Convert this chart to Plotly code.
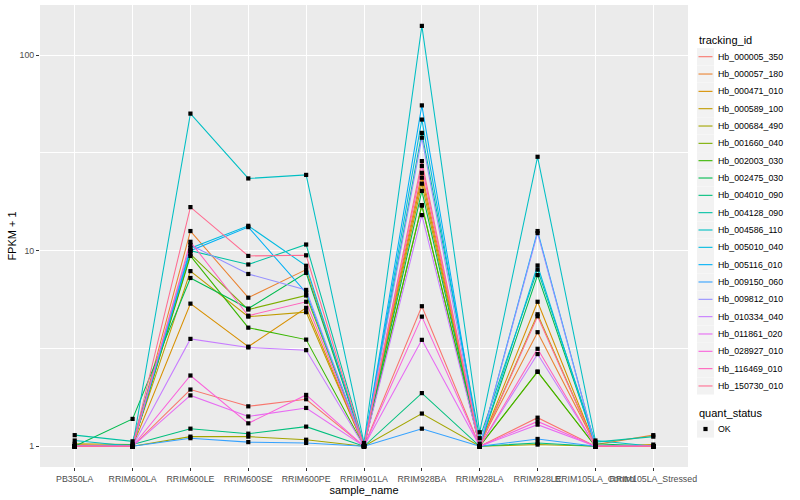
import plotly.graph_objects as go

categories = ["PB350LA", "RRIM600LA", "RRIM600LE", "RRIM600SE", "RRIM600PE", "RRIM901LA",
              "RRIM928BA", "RRIM928LA", "RRIM928LE", "RRIM105LA_Control", "RRIM105LA_Stressed"]

tracking_ids = ["Hb_000005_350", "Hb_000057_180", "Hb_000471_010", "Hb_000589_100", "Hb_000684_490",
                "Hb_001660_040", "Hb_002003_030", "Hb_002475_030", "Hb_004010_090", "Hb_004128_090",
                "Hb_004586_110", "Hb_005010_040", "Hb_005116_010", "Hb_009150_060", "Hb_009812_010",
                "Hb_010334_040", "Hb_011861_020", "Hb_028927_010", "Hb_116469_010", "Hb_150730_010"]

colors = ["#F8766D", "#EA8331", "#D89000", "#C09B00", "#A3A500", "#7CAE00", "#39B600", "#00BB4E",
          "#00BF7D", "#00C1A3", "#00BFC4", "#00BAE0", "#00B0F6", "#35A2FF", "#9590FF", "#C77CFF",
          "#E76BF3", "#FA62DB", "#FF62BC", "#FF6C91"]

Hb_000005_350 = [1.0, 1.0, 1.95, 1.6, 1.74, 1.0, 5.2, 1.0, 1.4, 1.0, 1.0]
Hb_000057_180 = [1.02, 1.0, 12.6, 5.75, 8.0, 1.02, 25.0, 1.03, 3.83, 1.02, 1.14]
Hb_000471_010 = [1.0, 1.0, 5.36, 3.23, 5.1, 1.0, 23.6, 1.0, 5.48, 1.0, 1.0]
Hb_000589_100 = [1.03, 1.02, 7.86, 4.6, 4.85, 1.0, 22.0, 1.0, 4.73, 1.0, 1.02]
Hb_000684_490 = [1.0, 1.0, 1.12, 1.12, 1.08, 1.0, 1.47, 1.0, 1.02, 1.0, 1.0]
Hb_001660_040 = [1.0, 1.0, 9.6, 5.0, 5.9, 1.0, 17.0, 1.0, 2.40, 1.0, 1.0]
Hb_002003_030 = [1.0, 1.0, 9.4, 4.04, 3.51, 1.0, 17.1, 1.0, 2.41, 1.0, 1.0]
Hb_002475_030 = [1.0, 1.38, 7.25, 5.06, 7.7, 1.0, 20.2, 1.0, 7.5, 1.03, 1.0]
Hb_004010_090 = [1.0, 1.02, 1.23, 1.16, 1.26, 1.0, 1.87, 1.0, 1.04, 1.0, 1.0]
Hb_004128_090 = [1.14, 1.06, 10.0, 8.5, 10.75, 1.02, 40.0, 1.1, 8.0, 1.05, 1.12]
Hb_004586_110 = [1.07, 1.0, 50.2, 23.4, 24.4, 1.04, 141.0, 1.18, 30.2, 1.07, 1.0]
Hb_005010_040 = [1.0, 1.0, 10.3, 13.4, 8.37, 1.0, 46.8, 1.0, 8.4, 1.0, 1.0]
Hb_005116_010 = [1.0, 1.0, 10.0, 13.2, 6.1, 1.0, 55.3, 1.0, 12.6, 1.0, 1.0]
Hb_009150_060 = [1.0, 1.0, 1.1, 1.05, 1.04, 1.0, 1.23, 1.0, 1.09, 1.0, 1.0]
Hb_009812_010 = [1.0, 1.0, 10.7, 7.6, 6.3, 1.0, 37.8, 1.0, 12.3, 1.0, 1.0]
Hb_010334_040 = [1.0, 1.0, 3.54, 3.2, 3.1, 1.0, 15.2, 1.0, 2.96, 1.0, 1.0]
Hb_011861_020 = [1.0, 1.0, 1.82, 1.42, 1.57, 1.0, 3.5, 1.0, 1.29, 1.0, 1.0]
Hb_028927_010 = [1.0, 1.0, 2.3, 1.31, 1.83, 1.0, 4.6, 1.0, 1.34, 1.0, 1.0]
Hb_116469_010 = [1.0, 1.0, 11.1, 4.65, 5.48, 1.0, 27.1, 1.0, 3.15, 1.0, 1.0]
Hb_150730_010 = [1.0, 1.0, 16.7, 9.4, 9.47, 1.0, 28.7, 1.0, 4.62, 1.0, 1.0]

series_values = [Hb_000005_350, Hb_000057_180, Hb_000471_010, Hb_000589_100, Hb_000684_490,
                 Hb_001660_040, Hb_002003_030, Hb_002475_030, Hb_004010_090, Hb_004128_090,
                 Hb_004586_110, Hb_005010_040, Hb_005116_010, Hb_009150_060, Hb_009812_010,
                 Hb_010334_040, Hb_011861_020, Hb_028927_010, Hb_116469_010, Hb_150730_010]

quant_status = "OK"

y_ticks = [1, 10, 100]
y_tick_labels = ["1", "10", "100"]

W, H = 800, 500
ML, MR, MT, MB = 40, 112, 5, 33
PW, PH = W - ML - MR, H - MT - MB


def px(x):
    return (x - ML) / PW


def py(y):
    return (H - MB - y) / PH


FONT = "Liberation Sans, Arial, sans-serif"

fig = go.Figure()
xs = list(range(len(categories)))
for name, vals, col in zip(tracking_ids, series_values, colors):
    fig.add_trace(go.Scatter(x=xs, y=vals, mode="lines", name=name,
                             line=dict(color=col, width=1.05), showlegend=False))

all_x, all_y = [], []
for vals in series_values:
    all_x += xs
    all_y += vals
fig.add_trace(go.Scatter(x=all_x, y=all_y, mode="markers", name=quant_status,
                         marker=dict(symbol="square", size=4.2, color="black", line=dict(width=0)),
                         showlegend=False))

shapes = []
annotations = []

# legend: tracking_id
annotations.append(dict(x=px(696.5), y=py(40), xref="paper", yref="paper", text="tracking_id",
                        showarrow=False, xanchor="left", yanchor="middle",
                        font=dict(family=FONT, size=11, color="black")))
step = 17.33
for i, (name, col) in enumerate(zip(tracking_ids, colors)):
    c = 56.7 + i * step
    shapes.append(dict(type="rect", xref="paper", yref="paper", x0=px(697), x1=px(714),
                       y0=py(c - 8.6), y1=py(c + 8.6), fillcolor="#F2F2F2", line=dict(width=0)))
    shapes.append(dict(type="line", xref="paper", yref="paper", x0=px(698.5), x1=px(712.5),
                       y0=py(c), y1=py(c), line=dict(color=col, width=1.1)))
    annotations.append(dict(x=px(716), y=py(c), xref="paper", yref="paper", text=name,
                            showarrow=False, xanchor="left", yanchor="middle",
                            font=dict(family=FONT, size=8.8, color="black")))

# legend: quant_status
annotations.append(dict(x=px(696.5), y=py(412.5), xref="paper", yref="paper", text="quant_status",
                        showarrow=False, xanchor="left", yanchor="middle",
                        font=dict(family=FONT, size=11, color="black")))
c = 429
shapes.append(dict(type="rect", xref="paper", yref="paper", x0=px(697), x1=px(714),
                   y0=py(c - 8.6), y1=py(c + 8.6), fillcolor="#F2F2F2", line=dict(width=0)))
shapes.append(dict(type="rect", xref="paper", yref="paper", x0=px(703.4), x1=px(707.6),
                   y0=py(c - 2.1), y1=py(c + 2.1), fillcolor="black", line=dict(width=0)))
annotations.append(dict(x=px(716), y=py(c), xref="paper", yref="paper", text=quant_status,
                        showarrow=False, xanchor="left", yanchor="middle",
                        font=dict(family=FONT, size=8.8, color="black")))

fig.update_layout(
    width=W, height=H,
    margin=dict(l=ML, r=MR, t=MT, b=MB, pad=0),
    paper_bgcolor="white", plot_bgcolor="#EBEBEB",
    showlegend=False,
    shapes=shapes, annotations=annotations,
    font=dict(family=FONT),
    xaxis=dict(
        range=[-0.6, len(categories) - 0.4],
        tickmode="array", tickvals=xs, ticktext=categories, tickangle=0,
        showgrid=True, gridcolor="white", gridwidth=1.1,
        zeroline=False, showline=False,
        ticks="outside", ticklen=3, tickwidth=1, tickcolor="#333333",
        tickfont=dict(family=FONT, size=8.8, color="#4D4D4D"),
        title=dict(text="sample_name", font=dict(family=FONT, size=11, color="black"), standoff=1),
        automargin=False,
    ),
    yaxis=dict(
        type="log",
        range=[-0.106, 2.256],
        tickmode="array", tickvals=y_ticks, ticktext=y_tick_labels,
        showgrid=True, gridcolor="white", gridwidth=1.1,
        minor=dict(tickvals=[10 ** 0.5, 10 ** 1.5], showgrid=True, gridcolor="white",
                   gridwidth=0.55, ticks=""),
        zeroline=False, showline=False,
        ticks="outside", ticklen=3, tickwidth=1, tickcolor="#333333",
        tickfont=dict(family=FONT, size=8.8, color="#4D4D4D"),
        title=dict(text="FPKM + 1", font=dict(family=FONT, size=11, color="black"), standoff=0),
        automargin=False,
    ),
)

fig.write_html("out.html", config={"displayModeBar": False},
               post_script="document.body.style.margin='0';document.body.style.overflow='hidden';")
